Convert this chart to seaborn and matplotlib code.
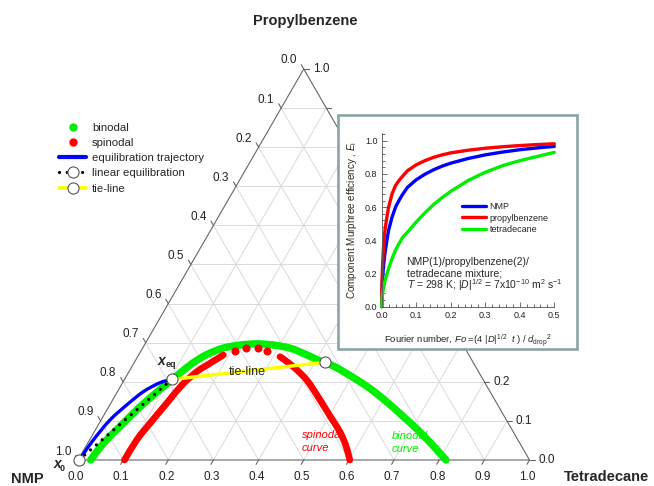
import numpy as np
import pandas as pd
import matplotlib
matplotlib.use("Agg")
import matplotlib.pyplot as plt
from matplotlib.lines import Line2D
from matplotlib.patches import Rectangle, PathPatch
from matplotlib.path import Path
from matplotlib.ticker import MultipleLocator, FormatStrFormatter
import seaborn as sns

sns.set_style("white")
plt.rcParams["font.family"] = ["Liberation Sans", "DejaVu Sans"]
plt.rcParams["mathtext.fontset"] = "custom"
plt.rcParams["mathtext.rm"] = "Liberation Sans"
plt.rcParams["mathtext.it"] = "Liberation Sans:italic"
plt.rcParams["mathtext.bf"] = "Liberation Sans:bold"

# ---- ternary data: t = tetradecane fraction, p = propylbenzene fraction ----
binodal_t = [0.028, 0.035, 0.050, 0.066, 0.084, 0.099, 0.115, 0.1304, 0.1506, 0.178,
             0.212, 0.248, 0.285, 0.327, 0.372, 0.410, 0.4485, 0.504, 0.555, 0.609,
             0.665, 0.721, 0.782, 0.815]
binodal_p = [0.000, 0.043, 0.085, 0.128, 0.166, 0.194, 0.2225, 0.2483, 0.2698, 0.286,
             0.294, 0.297, 0.294, 0.286, 0.269, 0.253, 0.239, 0.211, 0.183, 0.149,
             0.111, 0.072, 0.026, 0.000]

spinodal_left_t = [0.103, 0.1044, 0.1125, 0.124, 0.1345, 0.1504, 0.1687, 0.1876]
spinodal_left_p = [0.000, 0.0512, 0.0939, 0.145, 0.192, 0.2263, 0.2473, 0.2685]
spinodal_top_t = [0.208, 0.2293, 0.2565, 0.2796]
spinodal_top_p = [0.2795, 0.2857, 0.2857, 0.2795]
spinodal_right_t = [0.3153, 0.3575, 0.4042, 0.4506, 0.5019, 0.5445, 0.5757, 0.602]
spinodal_right_p = [0.2642, 0.2386, 0.2046, 0.1619, 0.1125, 0.0716, 0.0358, 0.000]

trajectory_t = [0.002, 0.004, 0.0083, 0.0197, 0.0375, 0.0573, 0.0828, 0.1045]
trajectory_p = [0.000, 0.0128, 0.0512, 0.1023, 0.1407, 0.1747, 0.1977, 0.206]

x0_tp = (0.002, 0.000)
xeq_tp = (0.1045, 0.206)
tie_end_tp = (0.422, 0.250)

ticks = [round(0.1 * i, 1) for i in range(11)]
right_labelled = [0.0, 0.1, 0.2, 1.0]

# ---- inset data: Murphree efficiency vs Fourier number ----
fourier = [0, 0.001, 0.0025, 0.005, 0.0075, 0.01, 0.015, 0.02, 0.03, 0.04, 0.05, 0.06,
           0.075, 0.1, 0.125, 0.15, 0.175, 0.2, 0.25, 0.3, 0.35, 0.4, 0.45, 0.5]
eff_nmp = [0, 0.11, 0.17, 0.24, 0.29, 0.33, 0.40, 0.46, 0.54, 0.60, 0.64, 0.675,
           0.72, 0.765, 0.798, 0.825, 0.847, 0.865, 0.893, 0.915, 0.932, 0.946, 0.957, 0.966]
eff_propylbenzene = [0, 0.16, 0.25, 0.35, 0.42, 0.47, 0.54, 0.60, 0.68, 0.73, 0.76, 0.785,
                     0.82, 0.855, 0.88, 0.90, 0.915, 0.927, 0.943, 0.955, 0.964, 0.971,
                     0.977, 0.982]
eff_tetradecane = [0, 0.05, 0.08, 0.11, 0.135, 0.16, 0.195, 0.23, 0.29, 0.34, 0.38, 0.415,
                   0.45, 0.51, 0.565, 0.615, 0.657, 0.695, 0.76, 0.81, 0.85, 0.88, 0.905, 0.93]

GREEN = "#00ee00"
RED = "#ff0000"
BLUE = "#0000ff"
YELLOW = "#ffff00"

S3 = np.sqrt(3) / 2


def to_xy(t, p):
    t = np.asarray(t, float)
    p = np.asarray(p, float)
    return t + p / 2, p * S3


def smooth_curve(ax, t, p, **kw):
    """Draw a curve through the given ternary points as joined cubic Bezier pieces."""
    x, y = to_xy(t, p)
    pts = np.column_stack([x, y])
    ext = np.vstack([pts[0], pts, pts[-1]])
    verts = [pts[0]]
    codes = [Path.MOVETO]
    for i in range(len(pts) - 1):
        p0, p1, p2, p3 = ext[i], ext[i + 1], ext[i + 2], ext[i + 3]
        verts += [p1 + (p2 - p0) / 6, p2 - (p3 - p1) / 6, p2]
        codes += [Path.CURVE4] * 3
    ax.add_patch(PathPatch(Path(verts, codes), fill=False, capstyle="round",
                           joinstyle="round", **kw))


W, H = 654, 486
SCALE = 451.5          # pixels per unit of triangle side
OX, OY = 78, 460       # pixel position of the NMP corner
PX = 1 / SCALE


def pix(xp, yp):
    return (xp - OX) * PX, (OY - yp) * PX


fig = plt.figure(figsize=(W / 100, H / 100), dpi=100)
ax = fig.add_axes([0, 0, 1, 1])
ax.set_xlim(-OX / SCALE, (W - OX) / SCALE)
ax.set_ylim(-(H - OY) / SCALE, OY / SCALE)
ax.axis("off")

# grid lines
for k in ticks[1:-1]:
    for (a, b) in [((0, k), (1 - k, k)), ((k, 0), (k, 1 - k)), ((1 - k, 0), (0, 1 - k))]:
        xs, ys = to_xy([a[0], b[0]], [a[1], b[1]])
        ax.plot(xs, ys, color="#dadada", lw=0.7, zorder=1)

# triangle outline
xs, ys = to_xy([0, 1, 0, 0], [0, 0, 1, 0])
ax.plot(xs, ys, color="#666666", lw=0.8, zorder=2)

TL = 5 * PX
lab_kw = dict(fontsize=8.5, color="#222222")
for k in ticks:
    # bottom axis: tetradecane
    bx, by = to_xy(k, 0)
    ax.plot([bx, bx - 0.5 * TL], [by, by - S3 * TL], color="#666666", lw=0.8)
    ax.text(bx - 2 * PX, by - 17 * PX, f"{k:.1f}", ha="center", va="center", **lab_kw)
    # right axis: propylbenzene
    rx, ry = to_xy(1 - k, k)
    ax.plot([rx, rx + TL], [ry, ry], color="#666666", lw=0.8)
    if k in right_labelled:
        ax.text(rx + 9 * PX, ry, f"{k:.1f}", ha="left", va="center", **lab_kw)
    # left axis: NMP
    lx, ly = to_xy(0, 1 - k)
    ax.plot([lx, lx - 0.5 * TL], [ly, ly + S3 * TL], color="#666666", lw=0.8)
    ax.text(lx - 15 * PX, ly + 8.5 * PX, f"{k:.1f}", ha="center", va="center", **lab_kw)

# corner labels
ax.text(*pix(305, 21), "Propylbenzene", ha="center", va="center",
        fontsize=10.5, fontweight="bold")
ax.text(*pix(27.5, 479), "NMP", ha="center", va="center",
        fontsize=10.5, fontweight="bold")
ax.text(*pix(606.7, 477), "Tetradecane", ha="center", va="center",
        fontsize=10.5, fontweight="bold")

# curve captions (drawn beneath the curves)
cap_kw = dict(fontsize=8, style="italic", ha="left", va="center", zorder=3)
ax.text(*pix(301.7, 435), "spinodal", color=RED, **cap_kw)
ax.text(*pix(301.7, 447.5), "curve", color=RED, **cap_kw)
ax.text(*pix(391.7, 436), "binodal", color=GREEN, **cap_kw)
ax.text(*pix(391.7, 448.5), "curve", color=GREEN, **cap_kw)

# binodal
smooth_curve(ax, binodal_t, binodal_p, edgecolor=GREEN, lw=5.3, zorder=4)

# spinodal
smooth_curve(ax, spinodal_left_t, spinodal_left_p, edgecolor=RED, lw=4.8, zorder=5)
smooth_curve(ax, spinodal_right_t, spinodal_right_p, edgecolor=RED, lw=4.8, zorder=5)
sx, sy = to_xy(spinodal_top_t, spinodal_top_p)
sns.scatterplot(x=sx, y=sy, color=RED, s=34, linewidth=0, ax=ax, zorder=5)

# equilibration trajectory
smooth_curve(ax, trajectory_t, trajectory_p, edgecolor=BLUE, lw=2.4, zorder=6)

# linear equilibration and tie-line
lx, ly = to_xy([x0_tp[0], xeq_tp[0]], [x0_tp[1], xeq_tp[1]])
ax.plot(lx, ly, color="black", lw=2.3, ls=(0, (0.01, 2.4)), dash_capstyle="round", zorder=7)
ex, ey = to_xy([xeq_tp[0], tie_end_tp[0]], [xeq_tp[1], tie_end_tp[1]])
ax.plot(ex, ey, color=YELLOW, lw=2.5, zorder=7)

cx, cy = to_xy([x0_tp[0], xeq_tp[0], tie_end_tp[0]], [x0_tp[1], xeq_tp[1], tie_end_tp[1]])
ax.plot(cx, cy, ls="none", marker="o", ms=8, mfc="white", mec="#555555", mew=0.8, zorder=8)

ax.text(*pix(247, 372), "tie-line", ha="center", va="center", fontsize=9, zorder=9)

# point labels
ax.text(*pix(161.7, 360.5), "x", fontsize=10, fontweight="bold",
        style="italic", ha="center", va="center", zorder=9)
ax.text(*pix(170.5, 364), "eq", fontsize=6.5, fontweight="bold",
        ha="center", va="center", zorder=9)
ax.text(*pix(57.5, 464), "x", fontsize=10, fontweight="bold",
        style="italic", ha="center", va="center", zorder=9)
ax.text(*pix(62.5, 468.5), "0", fontsize=6.5, fontweight="bold",
        ha="center", va="center", zorder=9)

# main legend
handles = [
    Line2D([], [], ls="none", marker="o", color=GREEN, ms=5),
    Line2D([], [], ls="none", marker="o", color=RED, ms=5),
    Line2D([], [], color=BLUE, lw=3),
    Line2D([], [], color="black", lw=2.3, ls=(0, (0.01, 2.4)), dash_capstyle="round",
           marker="o", ms=8, mfc="white", mec="#555555", mew=0.8),
    Line2D([], [], color=YELLOW, lw=2.8, marker="o", ms=8, mfc="white",
           mec="#555555", mew=0.8),
]
labels = ["binodal", "spinodal", "equilibration trajectory", "linear equilibration", "tie-line"]
ax.legend(handles, labels, loc="upper left", bbox_to_anchor=(59 / W, 1 - 123 / H),
          bbox_transform=fig.transFigure, frameon=False, fontsize=8.2, numpoints=1,
          handlelength=2.4, handletextpad=0.5, labelspacing=0.45, borderpad=0,
          borderaxespad=0)

# ---- inset ----
box = Rectangle((338 / W, 1 - 349 / H), (577 - 338) / W, (349 - 115) / H,
                transform=fig.transFigure, facecolor="white", edgecolor="#8aa4a6",
                lw=1.9, zorder=1)
fig.patches.append(box)

ax_in = fig.add_axes([381.7 / W, 1 - 306.7 / H, (554.3 - 381.7) / W, 173.4 / H])
ax_in.set_zorder(2)
ax_in.patch.set_alpha(0)

df = pd.DataFrame({
    "Fo": fourier * 3,
    "E": eff_nmp + eff_propylbenzene + eff_tetradecane,
    "component": ["NMP"] * len(fourier) + ["propylbenzene"] * len(fourier)
                 + ["tetradecane"] * len(fourier),
})
sns.lineplot(data=df, x="Fo", y="E", hue="component",
             palette={"NMP": BLUE, "propylbenzene": RED, "tetradecane": GREEN},
             lw=2.4, ax=ax_in, estimator=None, sort=False)
for ln in ax_in.lines:
    ln.set_clip_on(False)
    ln.set_solid_joinstyle("round")

ax_in.set_xlim(0, 0.5)
ax_in.set_ylim(0, 1.045)
ax_in.xaxis.set_major_locator(MultipleLocator(0.1))
ax_in.xaxis.set_minor_locator(MultipleLocator(0.02))
ax_in.yaxis.set_major_locator(MultipleLocator(0.2))
ax_in.yaxis.set_minor_locator(MultipleLocator(0.04))
ax_in.xaxis.set_major_formatter(FormatStrFormatter("%.1f"))
ax_in.yaxis.set_major_formatter(FormatStrFormatter("%.1f"))
ax_in.tick_params(which="both", direction="in", labelsize=6.5, color="#555555",
                  labelcolor="#222222", width=0.6, pad=3)
ax_in.tick_params(which="major", length=3.5)
ax_in.tick_params(which="minor", length=2)
ax_in.tick_params(axis="x", which="both", bottom=True)
ax_in.tick_params(axis="y", which="both", left=True)
for side in ["top", "right"]:
    ax_in.spines[side].set_visible(False)
for side in ["left", "bottom"]:
    ax_in.spines[side].set_color("#555555")
    ax_in.spines[side].set_linewidth(0.6)
ax_in.set_xlabel(r"Fourier number, $Fo$ =(4 |$D$|$^{1/2}$  $t$ ) / $d_{\rm drop}$$^{2}$",
                 fontsize=6.8, labelpad=9)
ax_in.set_ylabel(r"Component Murphree efficiency , $E_{\rm i}$", fontsize=7.1, labelpad=4)
ax_in.legend(loc="upper left", bbox_to_anchor=(0.465, 0.605), frameon=False,
             fontsize=6.5, handlelength=2.7, handletextpad=0.35, labelspacing=0.3,
             borderpad=0, borderaxespad=0, title=None)

note_kw = dict(fontsize=7.5, ha="left", va="center", transform=ax_in.transData)
ax_in.text(0.072, 0.271, "NMP(1)/propylbenzene(2)/", **note_kw)
ax_in.text(0.072, 0.201, "tetradecane mixture;", **note_kw)
ax_in.text(0.072, 0.130,
           r"$T$ = 298 K; |$D$|$^{1/2}$ = 7x10$^{-10}$ m$^{2}$ s$^{-1}$", **note_kw)

fig.savefig("out.png", dpi=100)
